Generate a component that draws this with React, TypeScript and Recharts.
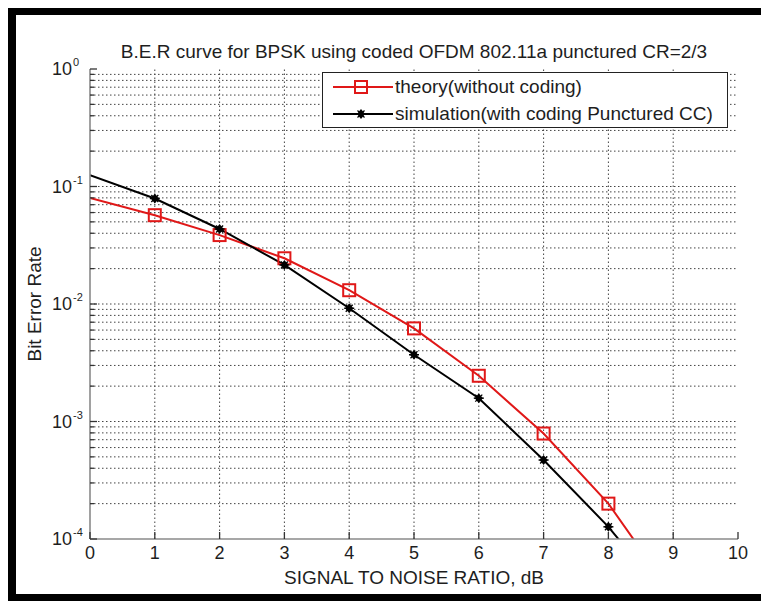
import React from 'react';
import {
  LineChart,
  Line,
  XAxis,
  YAxis,
  ReferenceLine,
  Legend,
  Label,
} from 'recharts';

// SNR in dB
const snr = [0, 1, 2, 3, 4, 5, 6, 7, 8, 9];
// Uncoded BPSK bit error rate (theory)
const theory = [0.08, 0.057, 0.0386, 0.0245, 0.0131, 0.0062, 0.00245, 0.00079, 0.0002, 0.000033];
// Coded OFDM with punctured convolutional code (simulation)
const simulation = [0.125, 0.079, 0.0435, 0.0215, 0.0092, 0.0037, 0.00158, 0.00047, 0.000127, 0.000027];

const xTicks = [0, 1, 2, 3, 4, 5, 6, 7, 8, 9, 10];
const decades = [-4, -3, -2, -1];
const yTicks: number[] = [];
decades.forEach((d) => {
  for (let k = 1; k <= 9; k++) yTicks.push(k * Math.pow(10, d));
});
yTicks.push(1);

const data = snr.map((s, i) => ({ snr: s, theory: theory[i], simulation: simulation[i] }));

const FONT = '"Liberation Sans", Arial, sans-serif';
const TEXT = '#1e1e1e';
const RED = '#e01818';
const AXIS = '#8a8a8a';
const GRID = '#444';
const Y_MIN = 1e-4;

const isDecade = (v: number) => {
  const l = Math.log10(v);
  return Math.abs(l - Math.round(l)) < 1e-6;
};

const LeftTick = (props: any) => {
  const { x, y, payload } = props;
  const v = payload.value as number;
  const major = isDecade(v);
  const exp = Math.round(Math.log10(v));
  return (
    <g>
      <line x1={x} x2={x + (major ? 7 : 4)} y1={y} y2={y} stroke="#333" strokeWidth={1.3} />
      {major && (
        <>
          <text x={x - 18} y={y + 6} textAnchor="end" fontSize={18} fontFamily={FONT} fill={TEXT}>
            10
          </text>
          <text x={x - 17} y={y - 3} fontSize={11} fontFamily={FONT} fill={TEXT}>
            {exp === 0 ? '0' : `-${Math.abs(exp)}`}
          </text>
        </>
      )}
    </g>
  );
};

const RightTick = (props: any) => {
  const { x, y, payload } = props;
  const major = isDecade(payload.value);
  return <line x1={x} x2={x - (major ? 7 : 4)} y1={y} y2={y} stroke="#333" strokeWidth={1.3} />;
};

const BottomTick = (props: any) => {
  const { x, y, payload } = props;
  return (
    <g>
      <line x1={x} x2={x} y1={y} y2={y - 7} stroke="#333" strokeWidth={1.3} />
      <text x={x} y={y + 20} textAnchor="middle" fontSize={18} fontFamily={FONT} fill={TEXT}>
        {payload.value}
      </text>
    </g>
  );
};

const TopTick = (props: any) => {
  const { x, y } = props;
  return <line x1={x} x2={x} y1={y} y2={y + 7} stroke="#333" strokeWidth={1.3} />;
};

const SquareDot = (props: any) => {
  const { cx, cy, payload, index } = props;
  if (payload.snr === 0 || payload.theory < Y_MIN || cx == null || cy == null) return <g key={`t${index}`} />;
  return (
    <rect key={`t${index}`} x={cx - 6} y={cy - 6} width={12} height={12} fill="none" stroke={RED} strokeWidth={2} />
  );
};

const StarShape = ({ cx, cy }: { cx: number; cy: number }) => (
  <g>
    <path d={`M${cx},${cy - 5} L${cx + 4},${cy} L${cx},${cy + 5} L${cx - 4},${cy} Z`} fill="#000" />
    <line x1={cx - 5} x2={cx + 5} y1={cy} y2={cy} stroke="#000" strokeWidth={1.5} />
    <line x1={cx - 3.5} x2={cx + 3.5} y1={cy - 3.5} y2={cy + 3.5} stroke="#000" strokeWidth={1.3} />
    <line x1={cx - 3.5} x2={cx + 3.5} y1={cy + 3.5} y2={cy - 3.5} stroke="#000" strokeWidth={1.3} />
  </g>
);

const StarDot = (props: any) => {
  const { cx, cy, payload, index } = props;
  if (payload.snr === 0 || payload.simulation < Y_MIN || cx == null || cy == null) return <g key={`s${index}`} />;
  return (
    <g key={`s${index}`}>
      <StarShape cx={cx} cy={cy} />
    </g>
  );
};

const LegendBox = () => (
  <div
    style={{
      width: 406,
      height: 56,
      boxSizing: 'border-box',
      border: '1.5px solid #222',
      background: '#fff',
      fontFamily: FONT,
      fontSize: 19,
      color: TEXT,
      position: 'relative',
    }}
  >
    {[
      { name: 'theory(without coding)', color: RED, kind: 'square', top: 0 },
      { name: 'simulation(with coding Punctured CC)', color: '#000', kind: 'star', top: 27 },
    ].map((item) => (
      <div key={item.name} style={{ position: 'absolute', left: 0, top: item.top, height: 28, width: '100%' }}>
        <svg width={72} height={28} style={{ position: 'absolute', left: 8, top: 0 }}>
          <line x1={2} x2={62} y1={14} y2={14} stroke={item.color} strokeWidth={2} />
          {item.kind === 'square' ? (
            <rect x={24} y={8} width={12} height={12} fill="none" stroke={RED} strokeWidth={2} />
          ) : (
            <StarShape cx={30} cy={14} />
          )}
        </svg>
        <span style={{ position: 'absolute', left: 72, top: 2, whiteSpace: 'nowrap', lineHeight: '24px' }}>
          {item.name}
        </span>
      </div>
    ))}
  </div>
);

export default function App() {
  return (
    <div style={{ position: 'absolute', left: 0, top: 0, width: 761, height: 601, background: '#fff' }}>
      <div
        style={{
          position: 'absolute',
          left: 8,
          top: 8,
          width: 753,
          height: 593,
          boxSizing: 'border-box',
          borderTop: '7px solid #000',
          borderLeft: '8px solid #000',
          borderBottom: '7px solid #000',
        }}
      />
      <div
        style={{
          position: 'absolute',
          left: 90,
          width: 648,
          top: 40,
          height: 24,
          lineHeight: '24px',
          textAlign: 'center',
          fontFamily: FONT,
          fontSize: 19,
          color: TEXT,
          whiteSpace: 'nowrap',
        }}
      >
        B.E.R curve for BPSK using coded OFDM 802.11a punctured CR=2/3
      </div>
      <div style={{ position: 'absolute', left: 0, top: 0 }}>
        <LineChart width={761} height={601} data={data} margin={{ top: 69, right: 23, bottom: 0, left: 30 }}>
          <XAxis
            dataKey="snr"
            type="number"
            domain={[0, 10]}
            ticks={xTicks}
            interval={0}
            height={62}
            tickSize={0}
            tickMargin={0}
            tickLine={false}
            tick={<BottomTick />}
            axisLine={{ stroke: AXIS, strokeWidth: 1.6 }}
            allowDataOverflow
          >
            <Label
              content={(p: any) => {
                const vb = p.viewBox;
                return (
                  <text
                    x={vb.x + vb.width / 2}
                    y={vb.y + 45}
                    textAnchor="middle"
                    fontSize={19}
                    fontFamily={FONT}
                    fill={TEXT}
                  >
                    SIGNAL TO NOISE RATIO, dB
                  </text>
                );
              }}
            />
          </XAxis>
          <XAxis
            xAxisId="top"
            orientation="top"
            dataKey="snr"
            type="number"
            domain={[0, 10]}
            ticks={xTicks}
            interval={0}
            height={0}
            tickSize={0}
            tickMargin={0}
            tickLine={false}
            tick={<TopTick />}
            axisLine={{ stroke: AXIS, strokeWidth: 1.6 }}
            allowDataOverflow
          />
          <YAxis
            scale="log"
            domain={[Y_MIN, 1]}
            ticks={yTicks}
            interval={0}
            width={60}
            tickSize={0}
            tickMargin={0}
            tickLine={false}
            tick={<LeftTick />}
            axisLine={{ stroke: AXIS, strokeWidth: 1.6 }}
            allowDataOverflow
          >
            <Label
              content={(p: any) => {
                const vb = p.viewBox;
                const cx = vb.x + 4;
                const cy = vb.y + vb.height / 2;
                return (
                  <text
                    x={cx}
                    y={cy}
                    transform={`rotate(-90, ${cx}, ${cy})`}
                    textAnchor="middle"
                    dominantBaseline="central"
                    fontSize={19}
                    fontFamily={FONT}
                    fill={TEXT}
                  >
                    Bit Error Rate
                  </text>
                );
              }}
            />
          </YAxis>
          <YAxis
            yAxisId="right"
            orientation="right"
            scale="log"
            domain={[Y_MIN, 1]}
            ticks={yTicks}
            interval={0}
            width={0}
            tickSize={0}
            tickMargin={0}
            tickLine={false}
            tick={<RightTick />}
            axisLine={{ stroke: AXIS, strokeWidth: 1.6 }}
            allowDataOverflow
          />
          {yTicks.slice(0, -1).slice(1).map((v) => (
            <ReferenceLine key={`h${v}`} y={v} stroke={GRID} strokeWidth={1} strokeDasharray="1.5 2.5" />
          ))}
          {xTicks.slice(1, -1).map((v) => (
            <ReferenceLine key={`v${v}`} x={v} stroke={GRID} strokeWidth={1} strokeDasharray="1.5 2.5" />
          ))}
          <Legend
            layout="horizontal"
            align="center"
            verticalAlign="middle"
            content={() => <LegendBox />}
            wrapperStyle={{ left: 322, top: 72, width: 406, height: 56 }}
          />
          <Line
            type="linear"
            dataKey="theory"
            stroke={RED}
            strokeWidth={2}
            dot={SquareDot}
            activeDot={false}
            isAnimationActive={false}
          />
          <Line
            type="linear"
            dataKey="simulation"
            stroke="#000"
            strokeWidth={2}
            dot={StarDot}
            activeDot={false}
            isAnimationActive={false}
          />
        </LineChart>
      </div>
    </div>
  );
}
